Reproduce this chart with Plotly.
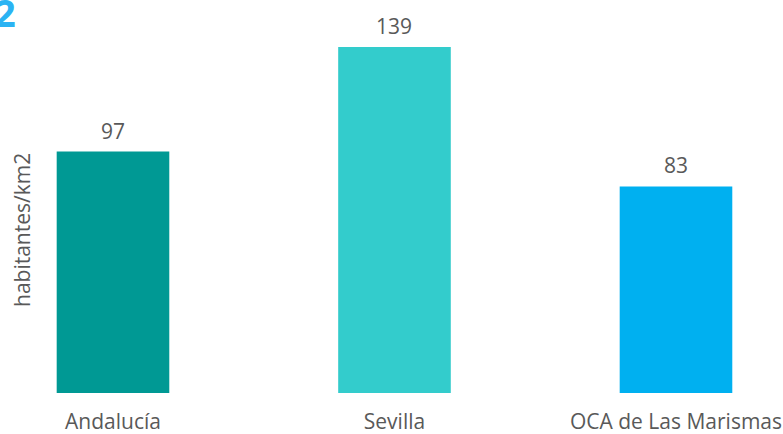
import plotly.graph_objects as go

categories = ['Andalucía', 'Sevilla', 'OCA de Las Marismas']
density = [97, 139, 83]
bar_colors = ['#009994', '#33CCCC', '#00B0F0']

font_family = 'Open Sans, Noto Sans, sans-serif'
text_gray = '#595959'
font_size = 21

fig = go.Figure(go.Bar(x = categories,
                       y = density,
                       width = 0.4,
                       marker = {'color': bar_colors, 'line': {'width': 0}},
                       hoverinfo = 'x+y'))

# value labels above each bar
for cat, val in zip(categories, density):
    fig.add_annotation(x = cat, y = val,
                       text = str(val),
                       showarrow = False,
                       yanchor = 'bottom',
                       yshift = 5,
                       font = {'family': font_family, 'size': font_size, 'color': text_gray})

# y axis title, placed by hand so the plot area doesn't move
fig.add_annotation(xref = 'paper', yref = 'paper',
                   x = 0, y = 0.4256,
                   xanchor = 'center', yanchor = 'middle',
                   xshift = -18,
                   textangle = -90,
                   text = 'habitantes/km2',
                   showarrow = False,
                   font = {'family': font_family, 'size': font_size, 'color': text_gray})

# leftover heading digit cut at the top edge
fig.add_annotation(xref = 'paper', yref = 'paper',
                   x = 0, y = 1,
                   xanchor = 'left', yanchor = 'top',
                   xshift = -48, yshift = 26,
                   text = '<b>2</b>',
                   showarrow = False,
                   font = {'family': 'Noto Sans, sans-serif', 'size': 38, 'color': '#2BB3F3'})

fig.update_layout(width = 783,
                  height = 434,
                  plot_bgcolor = 'white',
                  paper_bgcolor = 'white',
                  showlegend = False,
                  margin = {'l': 40, 'r': 10, 't': 10, 'b': 41},
                  font = {'family': font_family, 'color': text_gray})

fig.update_xaxes(range = [-0.2593, 2.3446],
                 automargin = False,
                 showgrid = False,
                 showline = False,
                 zeroline = False,
                 ticks = 'outside',
                 ticklen = 10,
                 tickcolor = 'rgba(0,0,0,0)',
                 tickfont = {'family': font_family, 'size': font_size, 'color': text_gray})

fig.update_yaxes(range = [0, 153.9],
                 automargin = False,
                 showgrid = False,
                 showline = False,
                 zeroline = False,
                 showticklabels = False)

# drop the default body margin so the figure sits at the page corner
fig.write_html("out.html",
               config = {'displayModeBar': False},
               post_script = "document.body.style.margin = '0';")
